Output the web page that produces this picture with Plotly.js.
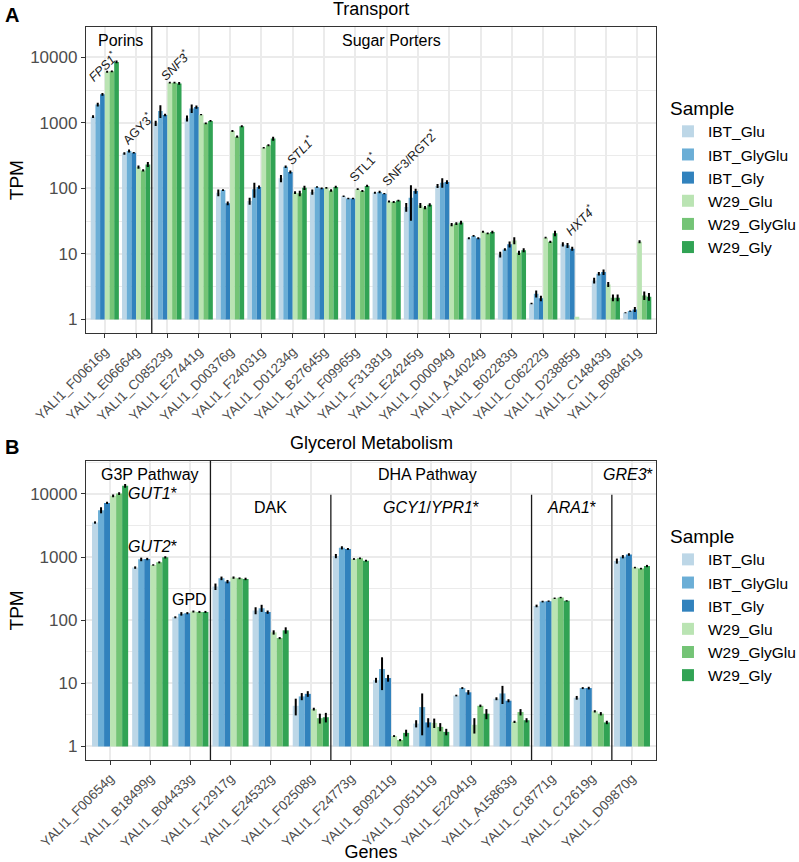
<!DOCTYPE html>
<html><head><meta charset="utf-8">
<script src="https://cdn.plot.ly/plotly-3.0.1.min.js"></script>
<style>html,body{margin:0;padding:0;background:#fff}</style>
</head><body><div id="chart" style="width:799px;height:862px"></div>
<script>
// ---------- data ----------
const samples = ['IBT_Glu','IBT_GlyGlu','IBT_Gly','W29_Glu','W29_GlyGlu','W29_Gly'];

// Panel A: Transport
const genesA = ['YALI1_F00616g','YALI1_E06664g','YALI1_C08523g','YALI1_E27441g','YALI1_D00376g','YALI1_F24031g','YALI1_D01234g','YALI1_B27645g','YALI1_F09965g','YALI1_F31381g','YALI1_E24245g','YALI1_D00094g','YALI1_A14024g','YALI1_B02283g','YALI1_C06222g','YALI1_D23885g','YALI1_C14843g','YALI1_B08461g'];
const tpmA_IBT_Glu    = [1240, 342,  985, 1170,  86,  64, 142,  88,  76, 86, 52, 109, 17.3,  9.8, 1.75, 14,   3.94, 1.26];
const tpmA_IBT_GlyGlu = [1900, 371, 1520, 1660,  94,  97, 214, 105,  70, 88, 72, 122, 18.8, 11.7, 2.46, 13.5, 4.98, 1.34];
const tpmA_IBT_Gly    = [2720, 350, 1320, 1740,  59, 105, 178, 100,  70, 83, 91, 125, 17.3, 14,   2.1,  12,   5.27, 1.42];
const tpmA_W29_Glu    = [6030, 212, 4100, 1330, 750, 417,  86, 102,  97, 63, 55,  28, 21.8, 16,   17.7, 1.1,  3.42, 15.3];
const tpmA_W29_GlyGlu = [6100, 188, 4100,  985, 615, 454,  84,  93,  91, 62, 51,  29, 20.6, 10.4, 15.3, null, 2.14, 2.32];
const tpmA_W29_Gly    = [8500, 232, 4000, 1070, 885, 575, 102, 105, 109, 65, 56,  30, 21.5, 11.4, 20.6, null, 2.14, 2.22];
const errA_IBT_Glu    = [60, 15,  90, 120, 10,  8, 18, 8, 2, 3,  8,  8, 0.6, 1,   0.05, 1,   0.4,  0.02];
const errA_IBT_GlyGlu = [120, 20, 330, 250,  3, 25, 10, 3, 2, 4, 40, 20, 0.6, 0.5, 0.3,  1.2, 0.3,  0.03];
const errA_IBT_Gly    = [120, 10,  60, 100,  4,  6, 10, 3, 2, 2,  8,  8, 0.6, 1.5, 0.2,  0.8, 0.5,  0.12];
const errA_W29_Glu    = [200, 12, 120,  30, 25, 12,  4, 3, 3, 2,  5, 1.5, 0.8, 2,  0.6,  0,   0.3,  0.8];
const errA_W29_GlyGlu = [200,  8, 120,  30, 25, 15,  8, 4, 3, 2,  3, 1.5, 0.6, 0.8, 0.6, null, 0.25, 0.35];
const errA_W29_Gly    = [400, 20, 200,  30, 30, 40,  8, 5, 4, 2,  3,  2, 1,   0.8, 2,   null, 0.25, 0.3];

// Panel B: Glycerol Metabolism
const genesB = ['YALI1_F00654g','YALI1_B18499g','YALI1_B04433g','YALI1_F12917g','YALI1_E24532g','YALI1_F02508g','YALI1_F24773g','YALI1_B09211g','YALI1_D05111g','YALI1_E22041g','YALI1_A15863g','YALI1_C18771g','YALI1_C12619g','YALI1_D09870g'];
const tpmB_IBT_Glu    = [3520,  680, 111, 340, 142, 4.4, 1037, 11.2, 2.3,  6.4, 5.7,  168, 5.9,  865];
const tpmB_IBT_GlyGlu = [5520,  918, 126, 460, 155, 6.2, 1400, 16.8, 4.2,  8.4, 6.9,  197, 8.4, 1012];
const tpmB_IBT_Gly    = [7200,  930, 129, 408, 134, 6.8, 1340, 12.1, 2.4,  7.2, 5.3,  200, 8.4, 1096];
const tpmB_W29_Glu    = [9300,  748, 137, 472,  64, 3.9,  930, 1.46, 2.36, 2.2, 2.45, 222, 3.6,  680];
const tpmB_W29_GlyGlu = [10100, 823, 135, 460,  52, 2.8,  953, 1.26, 2.04, 4.4, 3.5,  228, 3.3,  655];
const tpmB_W29_Gly    = [13400, 988, 135, 450,  69, 2.9,  875, 1.64, 1.7,  3.3, 2.6,  202, 2.4,  720];
const errB_IBT_Glu    = [150, 30, 4, 40, 18, 1.3, 80, 1.0, 0.3, 0.2, 0.3, 8, 0.4,  80];
const errB_IBT_GlyGlu = [600, 60, 8, 30, 20, 0.8, 80, 9,   2.7, 0.3, 2.2, 6, 0.3,  60];
const errB_IBT_Gly    = [300, 40, 5, 25,  8, 0.7, 50, 1.5, 0.4, 0.6, 0.3, 5, 0.4,  50];
const errB_W29_Glu    = [500, 20, 5, 20,  5, 0.2, 30, 0.05, 0.4, 0.6, 0.1, 6, 0.15, 20];
const errB_W29_GlyGlu = [500, 30, 5, 15,  2, 0.5, 30, 0.05, 0.3, 0.2, 0.4, 6, 0.2,  20];
const errB_W29_Gly    = [900, 40, 5, 20,  8, 0.5, 30, 0.2,  0.2, 0.6, 0.2, 5, 0.15, 30];

// ---------- styling ----------
const sampleColors = ['#bdd7e7','#6baed6','#3182bd','#bae4b3','#74c476','#31a354'];
const FONT = '"Liberation Sans", Arial, Helvetica, sans-serif';

function makeBars(genes, vals, errs, xa, ya, legendId) {
  return samples.map((s, i) => ({
    type: 'bar', name: s, x: genes,
    y: vals[i].map(v => v == null ? null : v - 1), base: 1,
    customdata: vals[i],
    hovertemplate: '%{x}<br>' + s + ': %{customdata}<extra></extra>',
    xaxis: xa, yaxis: ya, legend: legendId,
    marker: {color: sampleColors[i], line: {width: 0}},
    error_y: {type: 'data', array: errs[i], visible: true, color: '#000', thickness: 2, width: 0}
  }));
}

const traces = [
  ...makeBars(genesA,
    [tpmA_IBT_Glu, tpmA_IBT_GlyGlu, tpmA_IBT_Gly, tpmA_W29_Glu, tpmA_W29_GlyGlu, tpmA_W29_Gly],
    [errA_IBT_Glu, errA_IBT_GlyGlu, errA_IBT_Gly, errA_W29_Glu, errA_W29_GlyGlu, errA_W29_Gly],
    'x', 'y', 'legend'),
  ...makeBars(genesB,
    [tpmB_IBT_Glu, tpmB_IBT_GlyGlu, tpmB_IBT_Gly, tpmB_W29_Glu, tpmB_W29_GlyGlu, tpmB_W29_Gly],
    [errB_IBT_Glu, errB_IBT_GlyGlu, errB_IBT_Gly, errB_W29_Glu, errB_W29_GlyGlu, errB_W29_Gly],
    'x2', 'y2', 'legend2')
];

const majorVals = [1, 10, 100, 1000, 10000];
const majorText = ['1', '10', '100', '1000', '10000'];
const minorVals = [3.1623, 31.623, 316.23, 3162.3, 31623];

const axBase = {
  showline: true, mirror: true, linecolor: '#333333', linewidth: 1.3,
  ticks: 'outside', ticklen: 4, tickwidth: 1, tickcolor: '#333333',
  showgrid: true, gridcolor: '#ebebeb', gridwidth: 1.5, zeroline: false,
  tickfont: {family: FONT, size: 17, color: '#4d4d4d'}
};
const xBase = Object.assign({}, axBase, {
  type: 'category', tickangle: -45, domain: [0, 1],
  tickfont: {family: FONT, size: 13.5, color: '#4d4d4d'}
});
const yBase = Object.assign({}, axBase, {
  type: 'log', tickmode: 'array', tickvals: majorVals, ticktext: majorText,
  minor: {tickmode: 'array', tickvals: minorVals, showgrid: true, gridcolor: '#ebebeb', gridwidth: 0.8, ticks: ''},
  title: {text: 'TPM', font: {family: FONT, size: 19, color: '#000'}, standoff: 1}
});

const geneLab = (x, y, text, ref) => ({
  xref: 'x' + ref, yref: 'y' + ref, x: x, y: y, text: text, showarrow: false,
  textangle: -45, xanchor: 'center', yanchor: 'middle',
  font: {family: FONT, size: 12.5, color: '#1a1a1a'}
});
const grpLab = (x, y, text, ref, size) => ({
  xref: 'x' + ref, yref: 'y' + ref, x: x, y: y, text: text, showarrow: false,
  xanchor: 'center', yanchor: 'middle',
  font: {family: FONT, size: size || 16, color: '#000'}
});

const annotations = [
  {xref: 'paper', yref: 'paper', x: -0.1456, y: 1.0164, xanchor: 'left', yanchor: 'middle', text: '<b>A</b>', showarrow: false, font: {family: FONT, size: 20, color: '#000'}},
  {xref: 'paper', yref: 'paper', x: -0.1456, y: 0.427, xanchor: 'left', yanchor: 'middle', text: '<b>B</b>', showarrow: false, font: {family: FONT, size: 20, color: '#000'}},
  {xref: 'paper', yref: 'paper', x: 0.5, y: 1.0246, xanchor: 'center', yanchor: 'middle', text: 'Transport', showarrow: false, font: {family: FONT, size: 18, color: '#000'}},
  {xref: 'paper', yref: 'paper', x: 0.5, y: 0.4325, xanchor: 'center', yanchor: 'middle', text: 'Glycerol Metabolism', showarrow: false, font: {family: FONT, size: 18, color: '#000'}},
  // panel A group labels
  grpLab(0.5, 4.25, 'Porins', ''),
  grpLab(9.15, 4.25, 'Sugar Porters', ''),
  // panel A gene labels
  geneLab(-0.06, 3.87, '<i>FPS1</i><sup>*</sup>', ''),
  geneLab(1.06, 2.92, 'AGY3<sup>*</sup>', ''),
  geneLab(2.24, 3.885, '<i>SNF3</i><sup>*</sup>', ''),
  geneLab(6.23, 2.59, '<i>STL1</i><sup>*</sup>', ''),
  geneLab(8.24, 2.33, 'STL1<sup>*</sup>', ''),
  geneLab(9.74, 2.48, 'SNF3/RGT2<sup>*</sup>', ''),
  geneLab(15.17, 1.52, '<i>HXT4</i><sup>*</sup>', ''),
  // panel B group labels
  grpLab(1.0, 4.30, 'G3P Pathway', '2'),
  grpLab(7.9, 4.30, 'DHA Pathway', '2'),
  grpLab(12.9, 4.30, '<i>GRE3</i>*', '2'),
  grpLab(1.06, 4.0, '<i>GUT1</i>*', '2'),
  grpLab(1.06, 3.17, '<i>GUT2</i>*', '2'),
  grpLab(1.99, 2.32, 'GPD', '2'),
  grpLab(4.0, 3.79, 'DAK', '2'),
  grpLab(8.0, 3.79, '<i>GCY1</i>/<i>YPR1</i>*', '2'),
  grpLab(11.5, 3.79, '<i>ARA1</i>*', '2')
];

const divLine = {color: '#1a1a1a', width: 1.3};
const shapes = [
  {type: 'line', xref: 'x', yref: 'y domain', x0: 1.5, x1: 1.5, y0: 0, y1: 1, line: divLine},
  {type: 'line', xref: 'x2', yref: 'y2 domain', x0: 2.5, x1: 2.5, y0: 0, y1: 1, line: divLine},
  {type: 'line', xref: 'x2', yref: 'y2 domain', x0: 5.5, x1: 5.5, y0: 0, y1: 0.886, line: divLine},
  {type: 'line', xref: 'x2', yref: 'y2 domain', x0: 10.5, x1: 10.5, y0: 0, y1: 0.886, line: divLine},
  {type: 'line', xref: 'x2', yref: 'y2 domain', x0: 12.5, x1: 12.5, y0: 0, y1: 0.886, line: divLine}
];

const legBase = {
  xanchor: 'left', yanchor: 'top', bgcolor: 'rgba(0,0,0,0)',
  font: {family: FONT, size: 15.5, color: '#000'},
  title: {text: 'Sample', font: {family: FONT, size: 19, color: '#000'}},
  tracegroupgap: 0, traceorder: 'normal'
};

const layout = {
  width: 799, height: 862,
  margin: {l: 86, r: 143, t: 27, b: 102, autoexpand: false},
  paper_bgcolor: '#fff', plot_bgcolor: '#fff',
  font: {family: FONT},
  barmode: 'group', bargap: 0.1, bargroupgap: 0,
  showlegend: true,
  xaxis: Object.assign({}, xBase, {anchor: 'y', range: [-0.6, 17.6]}),
  yaxis: Object.assign({}, yBase, {anchor: 'x', domain: [0.5821, 1], range: [-0.2125, 4.4625]}),
  xaxis2: Object.assign({}, xBase, {anchor: 'y2', range: [-0.6, 13.6],
    title: {text: 'Genes', font: {family: FONT, size: 18, color: '#000'}}}),
  yaxis2: Object.assign({}, yBase, {anchor: 'x2', domain: [0, 0.4083], range: [-0.215, 4.525]}),
  legend: Object.assign({}, legBase, {x: 1.021, y: 0.914}),
  legend2: Object.assign({}, legBase, {x: 1.021, y: 0.330}),
  annotations: annotations,
  shapes: shapes
};

Plotly.newPlot('chart', traces, layout, {displayModeBar: false, responsive: false});
</script>
</body></html>
